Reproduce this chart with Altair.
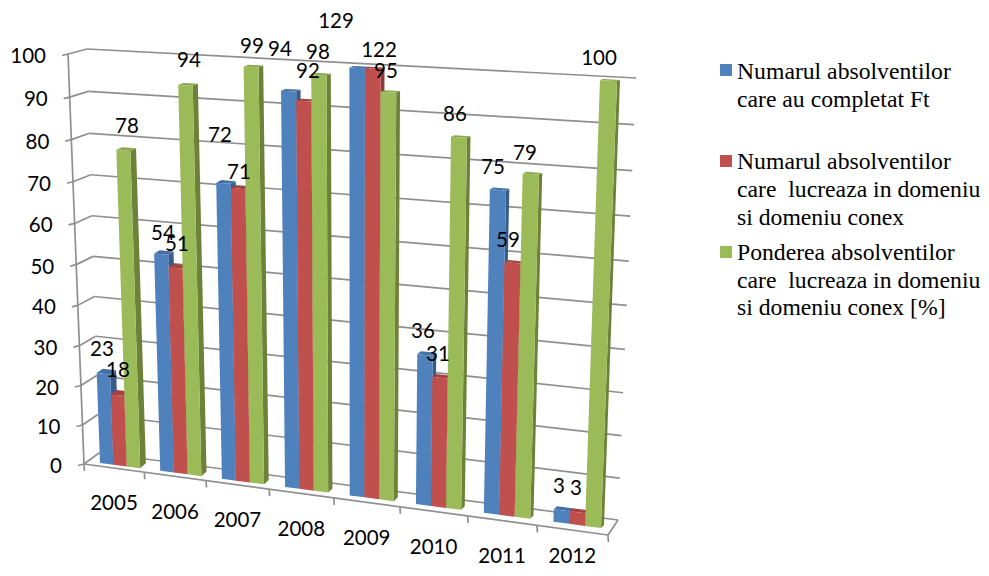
import numpy as np
import pandas as pd
import altair as alt

# ---------- data ----------
years = ["2005", "2006", "2007", "2008", "2009", "2010", "2011", "2012"]
completed = [23, 54, 72, 94, 129, 36, 75, 3]
working = [18, 51, 71, 92, 122, 31, 59, 3]
share = [78, 94, 99, 98, 95, 86, 79, 100]
y_ticks = [0, 10, 20, 30, 40, 50, 60, 70, 80, 90, 100]
legend_lines = [
    ["Numarul absolventilor", "care au completat Ft"],
    ["Numarul absolventilor", "care\u00a0 lucreaza in domeniu", "si domeniu conex"],
    ["Ponderea absolventilor", "care\u00a0 lucreaza in domeniu", "si domeniu conex [%]"],
]

# ---------- layout / styling ----------
W, H = 973, 560
OFF = 8
front_c = ["#4f81bd", "#c0504d", "#9bbb59"]
side_c = ["#385d8a", "#8c3a38", "#6c8238"]
top_c = ["#4470a6", "#a5423f", "#8ba64e"]
GRID = "#8f8f8f"
GROUP = 0.67
U = 7 + GROUP
MAXV = 100.0


def homography(c00, c10, c01, c11, umax):
    src = [(0, 0), (umax, 0), (0, 1), (umax, 1)]
    dst = [c00, c10, c01, c11]
    A, b = [], []
    for (u, s), (x, y) in zip(src, dst):
        A.append([u, s, 1, 0, 0, 0, -u * x, -s * x])
        A.append([0, 0, 0, u, s, 1, -u * y, -s * y])
        b += [x, y]
    h = np.linalg.solve(np.array(A, float), np.array(b, float))

    def P(u, s):
        d = h[6] * u + h[7] * s + 1
        return ((h[0] * u + h[1] * s + h[2]) / d - OFF, (h[3] * u + h[4] * s + h[5]) / d - OFF)

    return P


# planes of the pseudo-3D box
back_wall = homography((99, 453), (618, 520), (87, 49), (636, 78), 8)
front_wall = homography((84, 464), (608, 535), (68, 54), (623, 87), 8)
bar_front = homography((100, 463), (601, 528), (85, 54), (617, 81), U)
bar_back = homography((106, 458), (604, 525), (91, 52), (620, 80), U)


def slices(poly):
    """Turn a convex polygon into rows for a horizontal area mark."""
    ys = sorted({round(p[1], 3) for p in poly})
    out = []
    n = len(poly)
    for y in ys:
        xs = []
        for k in range(n):
            (x1, y1), (x2, y2) = poly[k], poly[(k + 1) % n]
            lo, hi = min(y1, y2), max(y1, y2)
            if lo - 1e-3 <= y <= hi + 1e-3:
                if abs(y2 - y1) < 1e-6:
                    xs += [x1, x2]
                else:
                    xs.append(x1 + (y - y1) / (y2 - y1) * (x2 - x1))
        out.append((y, min(xs), max(xs)))
    return out


rows = []
pid = 0


def add(poly, col):
    global pid
    for y, a, b in slices(poly):
        rows.append({"pid": pid, "col": col, "y": y, "x": a, "x2": b})
    pid += 1


for i, yr in enumerate(years):
    for j, series in enumerate([completed, working, share]):
        v = min(series[i], MAXV) / MAXV
        u0 = i + j * GROUP / 3
        u1 = u0 + GROUP / 3
        add([bar_front(u1, 0), bar_back(u1, 0), bar_back(u1, v), bar_front(u1, v)], side_c[j])
        add([bar_front(u0, v), bar_front(u1, v), bar_back(u1, v), bar_back(u0, v)], top_c[j])
        add([bar_front(u0, 0), bar_front(u1, 0), bar_front(u1, v), bar_front(u0, v)], front_c[j])

bars_df = pd.DataFrame(rows)

# wall lines
lines = []


def seg(a, b):
    lines.append({"x": a[0], "y": a[1], "x2": b[0], "y2": b[1]})


for t in y_ticks:
    s = t / 100
    seg(back_wall(0, s), back_wall(8, s))
    seg(front_wall(0, s), back_wall(0, s))
    p = front_wall(0, s)
    seg((p[0] - 6, p[1] + 1.5), p)
seg(front_wall(0, 0), front_wall(0, 1))
seg(front_wall(0, 0), front_wall(8, 0))
seg(front_wall(8, 0), back_wall(8, 0))
for k in range(9):
    p = front_wall(k, 0)
    seg(p, (p[0] + 0.4, p[1] + 7))
lines_df = pd.DataFrame(lines)

# axis texts
ytext = []
for t in y_ticks:
    p = front_wall(0, t / 100)
    ytext.append({"x": p[0] - 22, "y": p[1] + 1, "t": str(t)})
xtext = []
for k, yr in enumerate(years):
    p = front_wall(k + 0.5, 0)
    # the last label is kept inside the canvas
    xtext.append({"x": p[0], "y": min(p[1] + 34 + k * 0.2, H - 13), "t": yr})

# data label placement (layout table, in the order of the series lists)
label_pos = [
    [(102, 348), (163, 232), (220, 134), (280, 48), (336, 20), (423, 330), (493, 166), (559, 485)],
    [(118, 369), (177, 243), (239, 171), (308, 70), (379, 49), (438, 353), (508, 239), (576, 487)],
    [(127, 125), (189, 59), (252, 45), (318, 51), (386, 70), (455, 113), (525, 152), (599, 57)],
]
dl = []
for j, series in enumerate([completed, working, share]):
    for i, val in enumerate(series):
        x, y = label_pos[j][i]
        dl.append({"x": x - OFF, "y": y - OFF, "t": str(val)})

# legend
swatch_top = [64, 155, 246]
line_y = [[72, 100], [162, 190, 218], [253, 281, 308]]
sw, lt = [], []
for j, grp in enumerate(legend_lines):
    sw.append({"x": 720 - OFF, "x2": 732 - OFF, "y": swatch_top[j] - OFF, "y2": swatch_top[j] + 12 - OFF, "col": front_c[j]})
    for k, txt in enumerate(grp):
        lt.append({"x": 737 - OFF, "y": line_y[j][k] - OFF, "t": txt})

X = alt.X("x:Q", scale=alt.Scale(domain=[0, W], nice=False, zero=False), axis=None)
Y = alt.Y("y:Q", scale=alt.Scale(domain=[H, 0], nice=False, zero=False), axis=None)

grid = alt.Chart(lines_df).mark_rule(stroke=GRID, strokeWidth=1.7).encode(x=X, y=Y, x2="x2:Q", y2="y2:Q")
bars = alt.Chart(bars_df).mark_area(orient="horizontal", opacity=1).encode(
    x=X, x2="x2:Q", y=Y,
    detail="pid:N",
    color=alt.Color("col:N", scale=None),
)


def text_layer(records, align, font="Lato", size=20.5, dy=2):
    return alt.Chart(pd.DataFrame(records)).mark_text(
        align=align, baseline="middle", font=font, fontSize=size, color="#000000", dy=dy
    ).encode(x=X, y=Y, text="t:N")


swatches = alt.Chart(pd.DataFrame(sw)).mark_rect().encode(
    x=X, x2="x2:Q", y=Y, y2="y2:Q", color=alt.Color("col:N", scale=None)
)

chart = alt.layer(
    grid,
    bars,
    text_layer(ytext, "right"),
    text_layer(xtext, "center"),
    text_layer(dl, "center"),
    swatches,
    text_layer(lt, "left", font="Liberation Serif", size=23.7, dy=0),
).properties(
    width=W, height=H, padding=0, autosize=alt.AutoSizeParams(type="none"), background="#ffffff"
).configure_view(stroke=None)

chart.save("out.html", embed_options={"renderer": "svg", "actions": False})
